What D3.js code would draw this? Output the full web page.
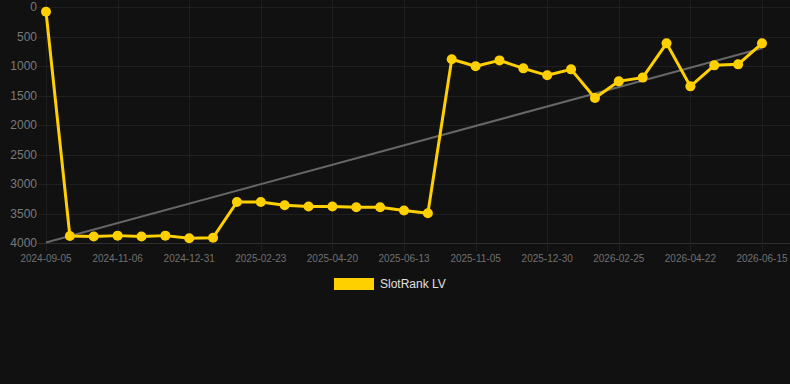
<!DOCTYPE html>
<html>
<head>
    <title>SlotRank LV</title>
    <script src="https://d3js.org/d3.v7.min.js"></script>
    <style>
        body { margin: 0; background: #111111; }
        svg { display: block; font-family: "Liberation Sans", Arial, sans-serif; }
    </style>
</head>
<body>
    <div id="chart"></div>

    <script>
        // Dates (only every third one is shown on the axis)
        var dates = [
            "2024-09-05", "2024-09-26", "2024-10-16", "2024-11-06", "2024-11-24", "2024-12-12",
            "2024-12-31", "2025-01-18", "2025-02-05", "2025-02-23", "2025-03-13", "2025-04-01",
            "2025-04-20", "2025-05-08", "2025-05-26", "2025-06-13", "2025-07-01", "2025-10-18",
            "2025-11-05", "2025-11-23", "2025-12-11", "2025-12-30", "2026-01-18", "2026-02-06",
            "2026-02-25", "2026-03-15", "2026-04-03", "2026-04-22", "2026-05-10", "2026-05-28",
            "2026-06-15"
        ];

        // Rank values
        var ranks = [
            80, 3880, 3890, 3875, 3890, 3875, 3920, 3910, 3305, 3305, 3360, 3380,
            3380, 3395, 3395, 3450, 3495, 885, 1005, 905, 1040, 1158, 1057, 1542,
            1260, 1197, 616, 1345, 989, 972, 616
        ];

        // Trend line end values (first and last date)
        var trend = [3990, 700];

        var yTicks = [0, 500, 1000, 1500, 2000, 2500, 3000, 3500, 4000];
        var seriesName = "SlotRank LV";

        var width = 790, height = 384;
        var plotLeft = 46, plotRight = 762, plotTop = 7, plotBottom = 243;

        var svg = d3.select("#chart").append("svg")
            .attr("width", width)
            .attr("height", height);

        svg.append("rect").attr("width", width).attr("height", height).attr("fill", "#111111");

        var x = d3.scalePoint().domain(dates).range([plotLeft, plotRight]);
        var y = d3.scaleLinear().domain([0, 4000]).range([plotTop, plotBottom]);

        var shown = dates.filter(function(d, i) { return i % 3 === 0; });

        // grid lines
        svg.append("g").selectAll("line")
            .data(yTicks).enter().append("line")
            .attr("x1", 38).attr("x2", width)
            .attr("y1", function(d) { return Math.round(y(d)) + 0.5; })
            .attr("y2", function(d) { return Math.round(y(d)) + 0.5; })
            .attr("stroke", function(d) { return d === 4000 ? "#2e2e2e" : "#1f1f1f"; })
            .attr("stroke-width", 1);

        svg.append("g").selectAll("line")
            .data(shown).enter().append("line")
            .attr("x1", function(d) { return Math.round(x(d)) + 0.5; })
            .attr("x2", function(d) { return Math.round(x(d)) + 0.5; })
            .attr("y1", 0).attr("y2", plotBottom + 8)
            .attr("stroke", "#1f1f1f")
            .attr("stroke-width", 1);

        // y labels
        svg.append("g").selectAll("text")
            .data(yTicks).enter().append("text")
            .attr("x", 37)
            .attr("y", function(d) { return y(d); })
            .attr("dy", "0.35em")
            .attr("text-anchor", "end")
            .attr("font-size", 12)
            .attr("fill", "#7a7a7a")
            .text(function(d) { return d; });

        // x labels
        svg.append("g").selectAll("text")
            .data(shown).enter().append("text")
            .attr("x", function(d) { return x(d); })
            .attr("y", 262)
            .attr("text-anchor", "middle")
            .attr("font-size", 10)
            .attr("fill", "#707070")
            .text(function(d) { return d; });

        // trend line
        svg.append("line")
            .attr("x1", x(dates[0])).attr("y1", y(trend[0]))
            .attr("x2", x(dates[dates.length - 1])).attr("y2", y(trend[1]))
            .attr("stroke", "#666666")
            .attr("stroke-width", 2);

        // series
        var line = d3.line()
            .x(function(d, i) { return x(dates[i]); })
            .y(function(d) { return y(d); });

        svg.append("path")
            .datum(ranks)
            .attr("d", line)
            .attr("fill", "none")
            .attr("stroke", "#ffd000")
            .attr("stroke-width", 3)
            .attr("stroke-linejoin", "round");

        svg.append("g").selectAll("circle")
            .data(ranks).enter().append("circle")
            .attr("cx", function(d, i) { return x(dates[i]); })
            .attr("cy", function(d) { return y(d); })
            .attr("r", 5)
            .attr("fill", "#ffd000");

        // legend
        svg.append("rect")
            .attr("x", 334).attr("y", 278)
            .attr("width", 40).attr("height", 12)
            .attr("fill", "#ffd000");
        svg.append("text")
            .attr("x", 380).attr("y", 284)
            .attr("dy", "0.35em")
            .attr("font-size", 12)
            .attr("fill", "#e0e0e0")
            .text(seriesName);
    </script>
</body>
</html>
